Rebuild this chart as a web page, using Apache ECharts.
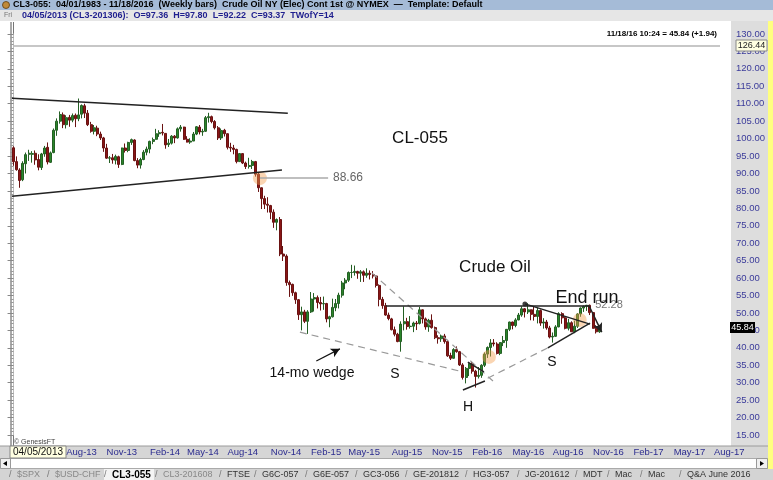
<!DOCTYPE html>
<html>
<head>
<meta charset="utf-8">
<script src="https://cdn.jsdelivr.net/npm/echarts@6/dist/echarts.min.js"></script>
<style>
  html, body { margin: 0; padding: 0; background: #fff; }
  #chart { width: 773px; height: 480px; }
</style>
</head>
<body>
<div id="chart"></div>
<script>
// CL3-055 weekly bars, first bar is Fri 04/05/2013, axis runs on to Aug-17
const firstFriday = Date.UTC(2013, 3, 5);
const axisWeeks = 232;
const monthNames = ['Jan', 'Feb', 'Mar', 'Apr', 'May', 'Jun', 'Jul', 'Aug', 'Sep', 'Oct', 'Nov', 'Dec'];
const labelMonths = [1, 4, 7, 10]; // Feb, May, Aug, Nov

// weekly OHLC (Apr-13 .. Nov-16)
const opens = [
  97.36, 93.4, 91.0, 88.2, 92.8, 95.5, 95.5, 95.8, 94.0, 91.7, 95.6, 97.5, 93.2, 96.0, 102.4, 105.0, 106.8, 104.0, 106.1, 105.3,
  106.7, 105.7, 107.0, 109.4, 107.3, 104.0, 102.1, 103.0, 101.3, 100.2, 97.3, 94.4, 94.5, 93.8, 94.8, 92.6, 97.3, 96.6, 98.9,
  99.6, 93.7, 92.4, 94.0, 96.1, 97.0, 99.2, 99.8, 101.4, 101.8, 101.5, 98.3, 98.7, 100.7, 100.2, 102.8, 103.3, 99.8, 99.0, 99.3,
  101.3, 103.3, 101.9, 102.1, 106.0, 106.3, 104.9, 103.1, 100.2, 102.4, 101.4, 97.5, 97.3, 96.9, 93.4, 95.7, 93.0, 92.0, 92.3, 93.4,
  89.8, 85.9, 82.8, 81.2, 80.8, 78.9, 76.0, 76.8, 66.9, 66.3, 58.7, 58.2,
  55.8, 53.8, 49.5, 50.3, 47.6, 50.3, 54.0, 54.4, 53.0, 52.6, 52.7, 48.3, 48.9, 51.5, 52.7, 55.1, 58.6, 59.4, 61.6, 61.6,
  61.9, 61.4, 61.8, 60.8, 61.4, 61.0, 60.6, 57.9, 53.9, 52.1, 49.4, 48.3, 45.2, 43.9, 41.8, 46.9, 47.5, 46.1, 46.2, 47.1,
  47.0, 50.9, 48.3, 46.0, 47.9, 45.8, 42.9, 42.6, 43.4, 41.8, 37.8, 37.0,
  39.5, 38.9, 35.1, 31.5, 34.1, 35.4, 33.3, 31.8, 32.1, 35.0, 38.2, 40.1, 41.4, 41.1, 38.4, 41.5, 42.1, 45.3, 47.4, 46.4,
  48.0, 49.4, 51.2, 50.3, 50.9, 49.6, 49.0, 50.7, 47.1, 47.4, 45.7, 43.1, 43.3, 46.0, 49.8, 48.6, 45.6, 47.2, 44.6, 46.2,
  49.7, 51.4, 51.9, 52.2, 50.1, 45.6, 44.6
];
const highs = [
  97.80, 94.9, 91.5, 93.5, 96.0, 96.8, 96.4, 96.6, 95.5, 95.9, 97.9, 98.9, 96.3, 102.9, 105.8, 107.8, 107.5, 106.7, 106.8, 107.2,
  107.2, 111.5, 109.8, 110.0, 108.2, 104.8, 103.9, 103.7, 102.0, 100.5, 98.5, 95.0, 95.6, 95.4, 95.1, 97.4, 98.6, 99.1, 100.0,
  99.8, 94.4, 94.5, 96.7, 97.7, 99.4, 100.3, 102.8, 102.4, 104.2, 101.6, 99.9, 101.0, 101.0, 103.2, 103.9, 103.4, 100.7, 100.1, 101.9,
  103.6, 103.9, 102.8, 106.5, 107.4, 106.6, 105.3, 103.6, 102.9, 102.8, 101.5, 98.8, 98.2, 97.1, 95.8, 95.8, 93.4, 94.5, 93.9, 93.6,
  90.3, 86.0, 83.6, 83.2, 81.0, 79.7, 77.1, 77.5, 69.2, 66.8, 59.3, 58.4,
  56.1, 54.0, 51.8, 50.9, 50.8, 56.0, 55.7, 55.0, 54.6, 54.7, 52.9, 49.2, 54.1, 54.0, 55.8, 59.2, 60.0, 61.9, 63.8, 63.6,
  62.1, 62.3, 62.2, 62.8, 62.2, 62.0, 60.7, 58.2, 54.6, 52.9, 50.1, 48.6, 46.1, 44.3, 47.6, 51.9, 48.6, 49.1, 47.5, 47.7,
  51.7, 51.0, 48.7, 48.3, 49.6, 46.1, 43.6, 43.8, 44.0, 42.3, 38.6, 39.9,
  40.4, 39.1, 35.6, 34.5, 35.6, 36.0, 33.7, 34.5, 35.3, 38.7, 40.4, 42.5, 42.5, 41.6, 41.6, 43.4, 45.4, 47.5, 47.5, 48.5,
  50.0, 51.9, 51.4, 52.8, 51.0, 51.9, 51.5, 51.0, 48.5, 48.0, 46.3, 44.4, 46.5, 50.2, 50.2, 49.0, 48.3, 47.6, 47.8, 49.9,
  51.6, 52.1, 52.3, 52.4, 50.3, 46.5, 46.6
];
const lows = [
  92.22, 90.8, 85.9, 87.8, 90.0, 93.6, 93.1, 92.5, 90.9, 91.0, 94.8, 92.6, 93.0, 95.8, 100.8, 104.3, 103.0, 102.9, 103.4, 104.7,
  103.3, 105.0, 105.8, 105.9, 103.6, 101.7, 101.2, 100.7, 99.6, 96.2, 94.2, 93.0, 92.8, 92.6, 91.6, 92.4, 96.0, 96.1, 98.2,
  93.5, 91.5, 91.4, 93.8, 95.2, 95.8, 98.4, 99.7, 100.5, 100.9, 97.1, 97.6, 98.3, 98.7, 100.0, 102.0, 99.6, 98.9, 98.5, 99.3,
  101.0, 101.2, 100.8, 101.9, 104.6, 104.4, 102.6, 99.6, 99.6, 100.6, 96.9, 96.2, 95.5, 92.9, 93.3, 92.7, 91.3, 91.4, 91.3, 89.1,
  84.7, 79.8, 79.8, 78.8, 76.9, 74.4, 73.7, 66.3, 64.9, 57.8, 54.6, 54.9,
  52.6, 48.0, 45.0, 47.1, 44.0, 50.0, 50.4, 51.3, 50.7, 50.9, 47.3, 45.9, 48.7, 50.5, 51.3, 54.4, 56.8, 58.9, 60.0, 60.7,
  59.8, 58.9, 58.9, 60.1, 59.6, 59.9, 57.3, 51.9, 51.2, 49.2, 47.9, 45.0, 43.3, 41.6, 38.9, 45.0, 45.2, 45.5, 44.5, 45.1,
  46.7, 47.0, 45.2, 44.6, 45.5, 42.5, 41.2, 41.7, 41.2, 37.4, 36.5, 36.9,
  38.6, 34.8, 30.9, 29.8, 31.9, 32.6, 28.6, 31.2, 31.4, 34.5, 37.1, 37.5, 40.4, 38.1, 37.9, 40.5, 40.0, 44.8, 45.3, 45.9,
  47.9, 48.9, 48.7, 49.7, 47.9, 47.8, 47.0, 46.3, 45.5, 45.2, 42.7, 41.5, 43.1, 45.9, 46.9, 45.3, 45.0, 44.6, 44.2, 45.7,
  48.9, 50.3, 50.6, 49.4, 45.5, 44.1, 44.3
];
const closes = [
  93.37, 91.1, 88.0, 92.9, 95.4, 95.8, 95.7, 93.9, 91.8, 95.6, 97.3, 93.3, 95.9, 102.4, 105.0, 106.9, 104.0, 106.0, 105.3, 106.6,
  105.7, 106.8, 109.5, 107.3, 104.0, 102.1, 103.1, 101.3, 100.2, 97.3, 94.4, 94.5, 93.9, 94.9, 92.6, 97.3, 96.6, 98.9, 99.7,
  93.7, 92.4, 94.0, 96.1, 97.0, 99.2, 99.7, 101.4, 101.7, 101.6, 98.2, 98.7, 100.7, 100.2, 102.8, 103.3, 99.8, 99.0, 99.3, 101.3,
  103.4, 101.9, 102.1, 106.0, 106.3, 104.9, 103.1, 100.2, 102.3, 101.4, 97.5, 97.3, 96.9, 93.4, 95.7, 93.0, 92.0, 92.3, 93.4, 89.8,
  85.9, 82.8, 81.2, 80.9, 78.9, 76.0, 76.8, 66.9, 66.3, 58.7, 58.1, 55.8,
  53.8, 49.5, 50.3, 47.6, 50.3, 54.0, 54.4, 53.0, 52.6, 52.7, 48.3, 48.9, 51.6, 52.7, 55.1, 58.6, 59.4, 61.6, 61.6, 61.9,
  61.4, 61.8, 60.8, 61.4, 61.0, 60.6, 57.9, 53.9, 52.1, 49.4, 48.4, 45.2, 43.9, 41.8, 46.8, 47.5, 46.1, 46.2, 47.1, 46.9,
  50.9, 48.3, 46.0, 47.9, 45.8, 42.9, 42.6, 43.4, 41.8, 37.7, 37.0, 39.5,
  38.9, 35.1, 31.5, 34.1, 35.4, 33.3, 31.8, 32.1, 35.0, 38.2, 40.1, 41.4, 41.1, 38.4, 41.5, 42.1, 45.3, 47.4, 46.4, 48.0,
  49.4, 51.2, 50.3, 50.9, 49.6, 49.0, 50.7, 47.1, 47.4, 45.7, 43.1, 43.3, 46.0, 49.8, 48.6, 45.6, 47.2, 44.6, 46.2, 49.7,
  51.4, 51.9, 52.2, 50.1, 45.6, 44.6, 45.84
];

// hand drawn studies, [week index, price]
const wedgeTop = [[-0.5, 111.6], [88.5, 107.3]];
const wedgeBottom = [[-0.5, 83.5], [86.6, 91.0]];
const breakLevel = [[79.5, 88.66], [101.5, 88.66]];
const lowerDashed = [[92.4, 44.5], [145.0, 33.1]];
const upperDashed = [[115.6, 61.5], [154.7, 30.5]];
const risingDashed = [[153.0, 31.3], [172.4, 40.0]];
const risingSolid = [[172.4, 40.0], [186.0, 47.1]];
const neckline = [[120.1, 52.2], [185.6, 52.2]];
const fallingSolid = [[165.0, 52.6], [186.0, 46.8]];
const endRunArrow = [[185.6, 52.2], [189.8, 44.5]];
const pennantTop = [[146.6, 35.9], [151.8, 33.1]];
const pennantBottom = [[145.0, 27.9], [152.1, 30.5]];
const wedgeArrow = [[97.7, 36.2], [105.3, 39.7]];
const highlights = [[79.5, 88.66], [153.4, 37.4], [182.7, 48.0]];
const pivotDot = [[165.0, 52.6]];

const weeks = [];
for (let i = 0; i < axisWeeks; i++) {
  weeks.push(new Date(firstFriday + i * 7 * 86400000).toISOString().slice(0, 10));
}
function isQuarterLabel(idx, value) {
  const d = new Date(value + 'T00:00:00Z');
  return labelMonths.indexOf(d.getUTCMonth()) >= 0 && d.getUTCDate() <= 7;
}

const candles = opens.map((o, i) => [o, closes[i], lows[i], highs[i]]);

function seg(pts, style, endSymbol) {
  return [
    { coord: pts[0], symbol: 'none', lineStyle: style },
    { coord: pts[1], symbol: endSymbol || 'none', symbolSize: [7, 9] }
  ];
}
const solid = { color: '#222', width: 1.5, type: 'solid' };
const dashed = { color: '#999', width: 1.2, type: [7, 5] };

const myChart = echarts.init(document.getElementById('chart'));
const font = 'Liberation Sans, Arial, sans-serif';

const tabs = [
  ['$SPX', 17, '#888'], ['$USD-CHF', 55, '#888'], ['CL3-055', 112, '#000'], ['CL3-201608', 163, '#888'],
  ['FTSE', 227, '#333'], ['G6C-057', 262, '#333'], ['G6E-057', 313, '#333'], ['GC3-056', 363, '#333'],
  ['GE-201812', 413, '#333'], ['HG3-057', 473, '#333'], ['JG-201612', 525, '#333'], ['MDT', 583, '#333'],
  ['Mac', 615, '#333'], ['Mac', 648, '#333'], ['Q&A June 2016', 687, '#333']
];

const graphics = [
  // title rows
  { type: 'rect', z: -1, shape: { x: 0, y: 0, width: 773, height: 10 }, style: { fill: '#a5bbd7' } },
  { type: 'circle', shape: { cx: 6, cy: 5, r: 3.5 }, style: { fill: '#c08a3a', stroke: '#5a3a10', lineWidth: 0.8 } },
  { type: 'text', x: 13, y: 5, style: { text: 'CL3-055:  04/01/1983 - 11/18/2016  (Weekly bars)  Crude Oil NY (Elec) Cont 1st @ NYMEX  \u2014  Template: Default', font: 'bold 9px ' + font, fill: '#000', verticalAlign: 'middle' } },
  { type: 'rect', z: -1, shape: { x: 0, y: 10, width: 773, height: 11 }, style: { fill: '#e6e6e6' } },
  { type: 'text', x: 4, y: 15.5, style: { text: 'Fri', font: '7px ' + font, fill: '#777', verticalAlign: 'middle' } },
  { type: 'text', x: 22, y: 15.5, style: { text: '04/05/2013 (CL3-201306):  O=97.36  H=97.80  L=92.22  C=93.37  TWofY=14', font: 'bold 9px ' + font, fill: '#1f1f8f', verticalAlign: 'middle' } },
  // plot frame
  { type: 'line', shape: { x1: 11, y1: 22, x2: 11, y2: 446 }, style: { stroke: '#555', lineWidth: 1 } },
  { type: 'line', shape: { x1: 13.5, y1: 22, x2: 13.5, y2: 446 }, style: { stroke: '#777', lineWidth: 1 } },
  { type: 'text', x: 717, y: 34, style: { text: '11/18/16 10:24 = 45.84 (+1.94)', font: 'bold 8px ' + font, fill: '#000', align: 'right', verticalAlign: 'middle' } },
  { type: 'line', shape: { x1: 14, y1: 46, x2: 720, y2: 46 }, style: { stroke: '#b4b4b4', lineWidth: 1.5 } },
  // price scale panel
  { type: 'rect', z: -1, shape: { x: 731, y: 21, width: 37, height: 425 }, style: { fill: '#dddddd' } },
  { type: 'rect', z: -1, shape: { x: 768, y: 21, width: 5, height: 448 }, style: { fill: '#ffff80' } },
  { type: 'rect', z: 10, shape: { x: 736, y: 40, width: 31, height: 11 }, style: { fill: '#ffffe1', stroke: '#888', lineWidth: 1 } },
  { type: 'text', z: 11, x: 751.5, y: 45.5, style: { text: '126.44', font: '9px ' + font, fill: '#222', align: 'center', verticalAlign: 'middle' } },
  { type: 'rect', z: 10, shape: { x: 730, y: 322, width: 25, height: 11 }, style: { fill: '#000' } },
  { type: 'text', z: 11, x: 742.5, y: 327.5, style: { text: '45.84', font: '9px ' + font, fill: '#fff', align: 'center', verticalAlign: 'middle' } },
  // annotations
  { type: 'text', x: 333, y: 178, style: { text: '88.66', font: '12px ' + font, fill: '#666', verticalAlign: 'middle' } },
  { type: 'text', x: 420, y: 138, style: { text: 'CL-055', font: '17px ' + font, fill: '#111', align: 'center', verticalAlign: 'middle' } },
  { type: 'text', x: 495, y: 267, style: { text: 'Crude Oil', font: '17px ' + font, fill: '#111', align: 'center', verticalAlign: 'middle' } },
  { type: 'text', x: 609, y: 305, style: { text: '52.28', font: '11px ' + font, fill: '#777', align: 'center', verticalAlign: 'middle' } },
  { type: 'text', x: 587, y: 298, style: { text: 'End run', font: '18px ' + font, fill: '#111', align: 'center', verticalAlign: 'middle' } },
  { type: 'text', x: 312, y: 373, style: { text: '14-mo wedge', font: '14px ' + font, fill: '#111', align: 'center', verticalAlign: 'middle' } },
  { type: 'text', x: 395, y: 374, style: { text: 'S', font: '14px ' + font, fill: '#111', align: 'center', verticalAlign: 'middle' } },
  { type: 'text', x: 468, y: 407, style: { text: 'H', font: '14px ' + font, fill: '#111', align: 'center', verticalAlign: 'middle' } },
  { type: 'text', x: 552, y: 362, style: { text: 'S', font: '14px ' + font, fill: '#111', align: 'center', verticalAlign: 'middle' } },
  { type: 'text', x: 14, y: 442, style: { text: '\u00a9 GenesisFT', font: '7px ' + font, fill: '#444', verticalAlign: 'middle' } },
  // date strip, scrollbar, sheet tabs
  { type: 'rect', z: -1, shape: { x: 0, y: 446, width: 768, height: 12 }, style: { fill: '#d6d6d6' } },
  { type: 'line', shape: { x1: 0, y1: 446, x2: 768, y2: 446 }, style: { stroke: '#9a9a9a', lineWidth: 1 } },
  { type: 'rect', z: 10, shape: { x: 10, y: 446, width: 56, height: 12 }, style: { fill: '#ffffe1', stroke: '#888', lineWidth: 1 } },
  { type: 'text', z: 11, x: 38, y: 452, style: { text: '04/05/2013', font: '10px ' + font, fill: '#111', align: 'center', verticalAlign: 'middle' } },
  { type: 'rect', shape: { x: 0.5, y: 458.5, width: 767, height: 10 }, style: { fill: '#fff', stroke: '#aaa', lineWidth: 1 } },
  { type: 'rect', shape: { x: 0.5, y: 458.5, width: 10, height: 10 }, style: { fill: '#f0f0f0', stroke: '#999', lineWidth: 1 } },
  { type: 'polygon', shape: { points: [[3, 463.5], [7, 461], [7, 466]] }, style: { fill: '#000' } },
  { type: 'rect', shape: { x: 756.5, y: 458.5, width: 11, height: 10 }, style: { fill: '#f0f0f0', stroke: '#999', lineWidth: 1 } },
  { type: 'polygon', shape: { points: [[764, 463.5], [760, 461], [760, 466]] }, style: { fill: '#000' } },
  { type: 'rect', z: -1, shape: { x: 0, y: 469, width: 773, height: 11 }, style: { fill: '#d4d4d4' } },
  { type: 'rect', z: -1, shape: { x: 104, y: 469, width: 50, height: 11 }, style: { fill: '#f4f4f4' } }
];
tabs.forEach(t => {
  graphics.push({ type: 'text', x: t[1], y: 475, style: { text: t[0], font: (t[0] === 'CL3-055' ? 'bold 10px ' : '9px ') + font, fill: t[2], verticalAlign: 'middle' } });
  graphics.push({ type: 'text', x: t[1] - 8, y: 475, style: { text: '/', font: '9px ' + font, fill: '#777', verticalAlign: 'middle' } });
});

const option = {
  animation: false,
  backgroundColor: '#fff',
  grid: { left: 12, right: 42, top: 34, height: 401, containLabel: false },
  xAxis: [
    {
      type: 'category',
      data: weeks,
      boundaryGap: true,
      axisLine: { show: false },
      axisTick: { show: false },
      splitLine: { show: false },
      axisLabel: {
        interval: isQuarterLabel,
        formatter: v => {
          const d = new Date(v + 'T00:00:00Z');
          return monthNames[d.getUTCMonth()] + '-' + String(d.getUTCFullYear()).slice(2);
        },
        align: 'left',
        margin: 12,
        fontSize: 9.5,
        fontFamily: font,
        color: '#2b2b8f'
      }
    },
    { type: 'value', min: -0.5, max: axisWeeks - 0.5, show: false }
  ],
  yAxis: {
    type: 'value',
    position: 'right',
    min: 15,
    max: 130,
    interval: 5,
    scale: true,
    axisLine: { show: true, lineStyle: { color: '#bdbdbd' } },
    axisTick: { show: true, inside: true, length: 6, lineStyle: { color: '#888' } },
    minorTick: { show: true, splitNumber: 5, length: 3, lineStyle: { color: '#999' } },
    splitLine: { show: false },
    axisLabel: { margin: 5, fontSize: 9.5, fontFamily: font, color: '#3b3b9a', formatter: v => v.toFixed(2) }
  },
  series: [
    {
      name: 'CL3-055',
      type: 'candlestick',
      data: candles,
      barWidth: 2.5,
      clip: true,
      itemStyle: { color: '#2a862a', color0: '#8a1616', borderColor: '#245f24', borderColor0: '#6a1212', borderWidth: 1 }
    },
    {
      name: 'studies',
      type: 'line',
      xAxisIndex: 1,
      data: [],
      silent: true,
      markLine: {
        silent: true,
        animation: false,
        label: { show: false },
        emphasis: { disabled: true },
        data: [
          seg(wedgeTop, solid),
          seg(wedgeBottom, solid),
          seg(breakLevel, { color: '#aaa', width: 1.5, type: 'solid' }),
          seg(lowerDashed, dashed),
          seg(upperDashed, dashed),
          seg(risingDashed, dashed),
          seg(risingSolid, solid),
          seg(neckline, solid),
          seg(fallingSolid, solid),
          seg(endRunArrow, solid, 'arrow'),
          seg(pennantTop, solid),
          seg(pennantBottom, solid),
          seg(wedgeArrow, { color: '#111', width: 1.2, type: 'solid' }, 'arrow')
        ]
      }
    },
    {
      name: 'highlights',
      type: 'scatter',
      xAxisIndex: 1,
      data: highlights,
      symbolSize: 14,
      silent: true,
      itemStyle: { color: 'rgba(244,160,80,0.55)' }
    },
    {
      name: 'pivot',
      type: 'scatter',
      xAxisIndex: 1,
      data: pivotDot,
      symbolSize: 5,
      silent: true,
      itemStyle: { color: '#111' }
    }
  ],
  graphic: graphics
};
myChart.setOption(option);
</script>
</body>
</html>
